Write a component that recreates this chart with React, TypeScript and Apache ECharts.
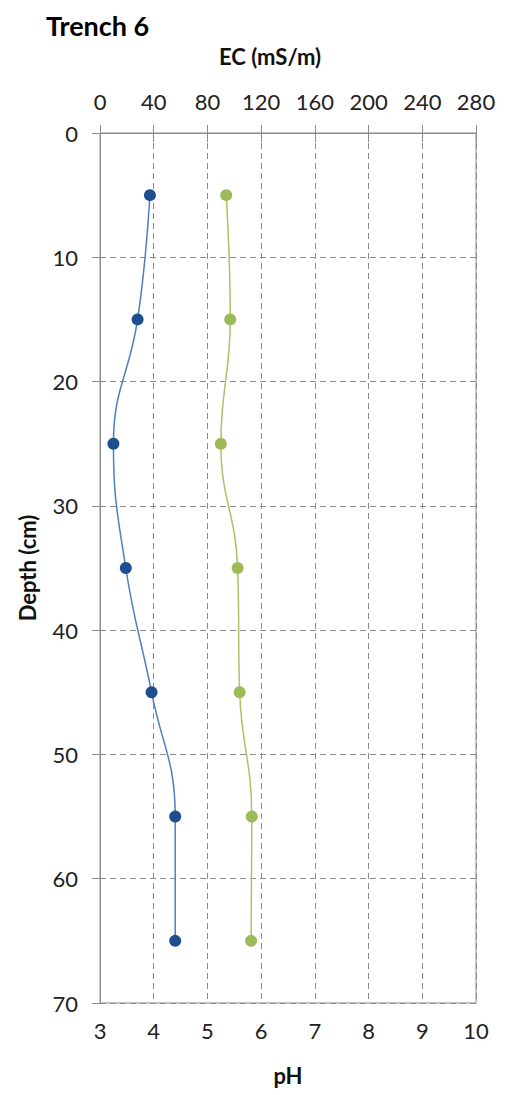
import React, { useEffect, useRef } from "react";
import * as echarts from "echarts";

const depths = [5, 15, 25, 35, 45, 55, 65];
const phValues = [3.93, 3.7, 3.25, 3.48, 3.96, 4.4, 4.4];
const ecValues = [94, 97, 90, 102.5, 104, 113, 112.5];

const FONT = "Lato";

export default function App() {
  const ref = useRef<HTMLDivElement>(null);
  useEffect(() => {
    if (!ref.current) return;
    const chart = echarts.init(ref.current, undefined, { renderer: "svg" });
    const axisGrey = "#8c8c8c";
    const gridGrey = "#8c8c8c";
    chart.setOption({
      animation: false,
      backgroundColor: "#ffffff",
      title: {
        text: "Trench 6",
        left: 41,
        top: 7,
        textStyle: { fontFamily: FONT, fontWeight: "bold", fontSize: 27, color: "#000" },
      },
      grid: {
        left: 100,
        right: 30,
        top: 133,
        bottom: 92,
        show: true,
        borderColor: axisGrey,
        borderWidth: 1,
      },
      xAxis: [
        {
          type: "value",
          position: "bottom",
          min: 3,
          max: 10,
          interval: 1,
          name: "pH",
          nameLocation: "middle",
          nameGap: 61,
          nameTextStyle: { fontFamily: FONT, fontWeight: "bold", fontSize: 22, color: "#111" },
          axisLine: { show: true, lineStyle: { color: axisGrey, width: 1 } },
          axisTick: { show: true, length: 9, lineStyle: { color: axisGrey } },
          axisLabel: { margin: 16, fontFamily: FONT, fontSize: 22, color: "#222" },
          splitLine: { show: true, lineStyle: { color: gridGrey, type: [6, 4], width: 1 } },
        },
        {
          type: "value",
          position: "top",
          min: 0,
          max: 280,
          interval: 40,
          name: "EC (mS/m)",
          nameLocation: "middle",
          nameGap: 66,
          nameTextStyle: {
            fontFamily: FONT,
            fontWeight: "bold",
            fontSize: 22,
            color: "#111",
            padding: [0, 36, 0, 0],
          },
          axisLine: { show: true, lineStyle: { color: axisGrey, width: 1 } },
          axisTick: { show: true, length: 8, lineStyle: { color: axisGrey } },
          axisLabel: { margin: 21, fontFamily: FONT, fontSize: 22, color: "#222" },
          splitLine: { show: false },
        },
      ],
      yAxis: {
        type: "value",
        inverse: true,
        min: 0,
        max: 70,
        interval: 10,
        name: "Depth (cm)",
        nameLocation: "middle",
        nameGap: 62,
        nameTextStyle: { fontFamily: FONT, fontWeight: "bold", fontSize: 22, color: "#111" },
        axisLine: { show: true, lineStyle: { color: axisGrey, width: 1 } },
        axisTick: { show: true, length: 8, lineStyle: { color: axisGrey } },
        axisLabel: { margin: 22, fontFamily: FONT, fontSize: 22, color: "#222" },
        splitLine: { show: true, lineStyle: { color: gridGrey, type: [6, 4], width: 1 } },
      },
      series: [
        {
          name: "pH",
          type: "line",
          xAxisIndex: 0,
          yAxisIndex: 0,
          smooth: 0.45,
          symbol: "circle",
          symbolSize: 12,
          data: depths.map((d, i) => [phValues[i], d]),
          lineStyle: { color: "#4f7fbf", width: 1.5 },
          itemStyle: { color: "#1f4e8f" },
        },
        {
          name: "EC",
          type: "line",
          xAxisIndex: 1,
          yAxisIndex: 0,
          smooth: 0.45,
          symbol: "circle",
          symbolSize: 12,
          data: depths.map((d, i) => [ecValues[i], d]),
          lineStyle: { color: "#a8c465", width: 1.5 },
          itemStyle: { color: "#9bbb59" },
        },
      ],
    });
    return () => chart.dispose();
  }, []);
  return (
    <div
      ref={ref}
      style={{ position: "fixed", left: 0, top: 0, width: 506, height: 1095, background: "#fff" }}
    />
  );
}
